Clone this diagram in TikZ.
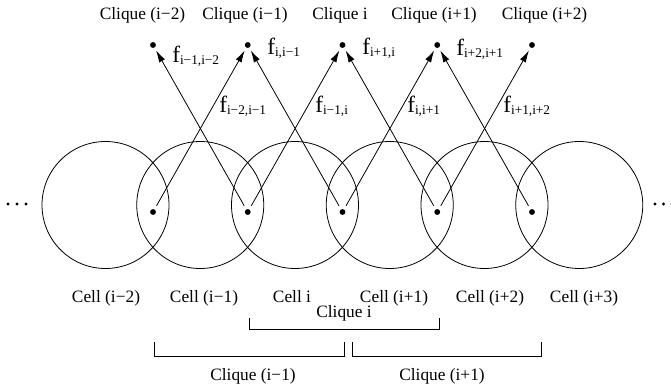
\documentclass[tikz,border=0pt]{standalone}
\usepackage{fontspec}
\setmainfont{Liberation Serif}
\usetikzlibrary{arrows.meta}
\tikzset{
  celldot/.style={circle, fill=black, inner sep=0pt, minimum size=4.4pt},
  flow/.style={-{Latex[length=9pt,width=5pt]}, line width=0.6pt, shorten <=3pt, shorten >=2.3pt},
  lbl/.style={inner sep=0pt, anchor=base, font=\fontsize{13}{15}\selectfont},
  flbl/.style={inner sep=0pt, anchor=base west},
  bracket/.style={line width=0.5pt},
}
\newcommand{\flab}[1]{{\fontsize{17.5}{18}\selectfont f}\raisebox{-0.8pt}{\fontsize{10}{10}\selectfont #1}}

\begin{document}
\begin{tikzpicture}[x=0.75pt,y=-0.75pt]
  \useasboundingbox (0,0) rectangle (671,392);
  % cells
  \foreach \cx in {105.5,200.25,295,389.75,484.5,579.25}
    \draw[line width=0.6pt] (\cx,205) circle[radius=63.5];
  % overlap points and clique points
  \foreach \k/\cx in {1/153,2/247.75,3/342.5,4/437.25,5/532}{
    \node[celldot] (b\k) at (\cx,212) {};
    \node[celldot] (t\k) at (\cx,45) {};
  }
  % messages
  \foreach \a/\b in {1/2,2/1,2/3,3/2,3/4,4/3,4/5,5/4}
    \draw[flow] (b\a) -- (t\b);
  % dots at both ends
  \foreach \x in {8,17,26,655,663.5,672}
    \fill (\x,204) circle[radius=1.6];
  % clique names on top
  \foreach \k/\x/\t in {1/142.5/Clique (i−2), 2/245/Clique (i−1), 3/340/Clique i, 4/434/Clique (i+1), 5/544.5/Clique (i+2)}
    \node[lbl] (top\k) at (\x,20) {\t};
  % message labels
  \node[flbl] (f21) at (172,63) {\flab{i−1,i−2}};
  \node[flbl] (f32) at (267,55) {\flab{i,i−1}};
  \node[flbl] (f43) at (362,55) {\flab{i+1,i}};
  \node[flbl] (f54) at (456,56) {\flab{i+2,i+1}};
  \node[flbl] (f12) at (219,113) {\flab{i−2,i−1}};
  \node[flbl] (f23) at (315,113) {\flab{i−1,i}};
  \node[flbl] (f34) at (407,113) {\flab{i,i+1}};
  \node[flbl] (f45) at (503,113) {\flab{i+1,i+2}};
  % cell names
  \foreach \k/\x/\t in {1/106/Cell (i−2), 2/204/Cell (i−1), 3/292/Cell i, 4/394/Cell (i+1), 5/490/Cell (i+2), 6/584/Cell (i+3)}
    \node[lbl] (cell\k) at (\x,302) {\t};
  % clique brackets
  \draw[bracket] (249,318) -- (249,329) -- (439,329) -- (439,318);
  \node[lbl] (cq) at (344,317) {Clique i};
  \draw[bracket] (154,342) -- (154,356) -- (344,356) -- (344,342);
  \draw[bracket] (352,342) -- (352,356) -- (541,356) -- (541,342);
  \node[lbl] (cqm) at (253,380) {Clique (i−1)};
  \node[lbl] (cqp) at (442,380) {Clique (i+1)};
\end{tikzpicture}
\end{document}
